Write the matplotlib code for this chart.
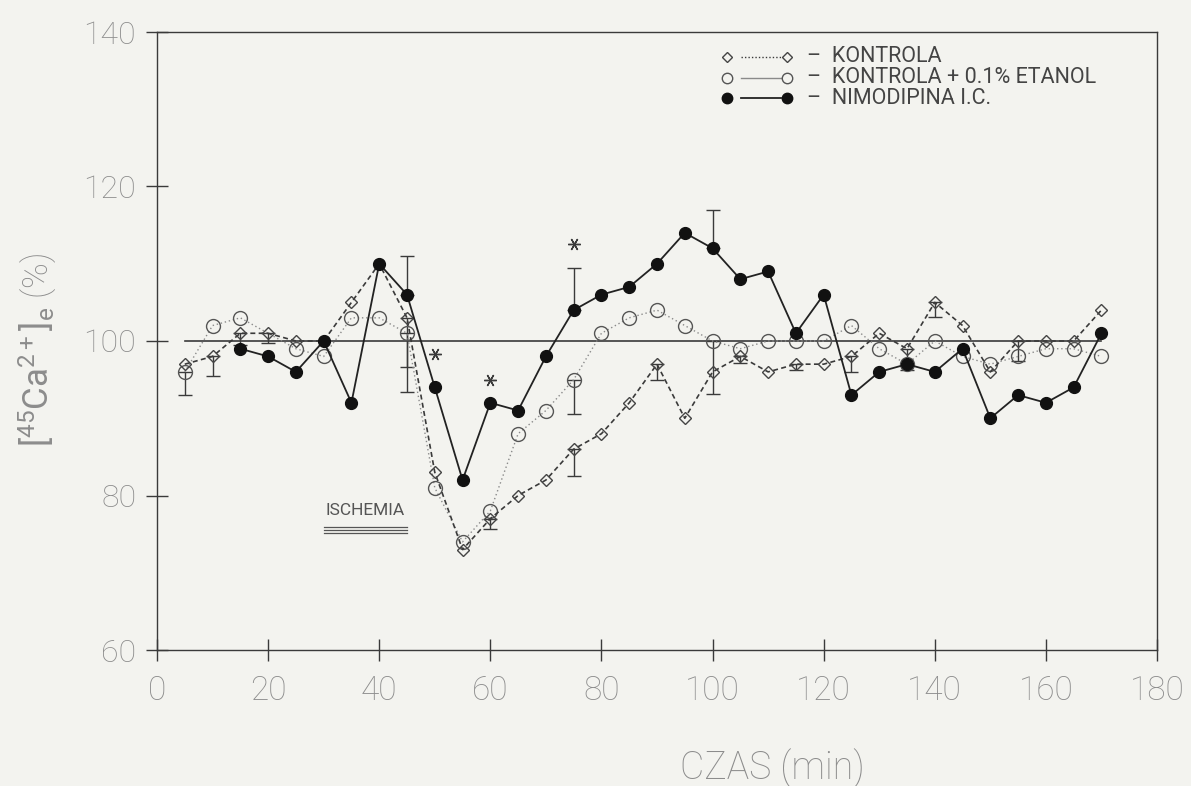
import matplotlib
matplotlib.use("Agg")
import matplotlib.pyplot as plt

# time points (min)
x_kontrola = [5, 10, 15, 20, 25, 30, 35, 40, 45, 50, 55, 60, 65, 70, 75, 80, 85,
              90, 95, 100, 105, 110, 115, 120, 125, 130, 135, 140, 145, 150, 155,
              160, 165, 170]
y_kontrola = [97, 98, 101, 101, 100, 100, 105, 110, 103, 83, 73, 77, 80, 82, 86,
              88, 92, 97, 90, 96, 98, 96, 97, 97, 98, 101, 99, 105, 102, 96, 100,
              100, 100, 104]

x_etanol = [5, 10, 15, 25, 30, 35, 40, 45, 50, 55, 60, 65, 70, 75, 80, 85, 90,
            95, 100, 105, 110, 115, 120, 125, 130, 135, 140, 145, 150, 155, 160,
            165, 170]
y_etanol = [96, 102, 103, 99, 98, 103, 103, 101, 81, 74, 78, 88, 91, 95, 101,
            103, 104, 102, 100, 99, 100, 100, 100, 102, 99, 97, 100, 98, 97, 98,
            99, 99, 98]

x_nimo = [15, 20, 25, 30, 35, 40, 45, 50, 55, 60, 65, 70, 75, 80, 85, 90, 95,
          100, 105, 110, 115, 120, 125, 130, 135, 140, 145, 150, 155, 160, 165,
          170]
y_nimo = [99, 98, 96, 100, 92, 110, 106, 94, 82, 92, 91, 98, 104, 106, 107, 110,
          114, 112, 108, 109, 101, 106, 93, 96, 97, 96, 99, 90, 93, 92, 94, 101]

# one-sided SEM bars
kontrola_err_x = [10, 15, 20, 45, 60, 75, 90, 105, 115, 125, 135, 140, 155]
kontrola_err_lo = [2.5, 1.5, 1.2, 6.4, 1.3, 3.5, 2.0, 0.8, 0.8, 2.0, 2.8, 1.9, 2.6]
etanol_err_x = [5, 45, 75, 100]
etanol_err_lo = [3.0, 7.6, 4.5, 6.8]
nimo_err_x = [45, 75, 100]
nimo_err_hi = [5.0, 5.5, 5.0]

# significance marks
star_x = [50, 60, 75]
star_y = [98.3, 95.0, 112.6]

ischemia_start, ischemia_end = 30, 45

x_ticks = [0, 20, 40, 60, 80, 100, 120, 140, 160, 180]
y_ticks = [60, 80, 100, 120, 140]

legend_labels = ["KONTROLA", "KONTROLA + 0.1% ETANOL", "NIMODIPINA I.C."]

BG = "#f3f3ef"
INK = "#3a3a3a"
GREY_TXT = "#8c8c8c"
FONT = "Roboto"

plt.rcParams["font.family"] = [FONT, "DejaVu Sans"]
plt.rcParams["mathtext.fontset"] = "custom"
plt.rcParams["mathtext.rm"] = FONT
plt.rcParams["mathtext.it"] = FONT
plt.rcParams["mathtext.bf"] = FONT

fig = plt.figure(figsize=(11.91, 7.86), dpi=100, facecolor=BG)
ax = fig.add_axes([157 / 1191, 1 - 650 / 786, 1000 / 1191, 618 / 786])
ax.set_facecolor(BG)

# baseline
ax.plot([5, 170], [100, 100], color=INK, lw=1.2, zorder=1)

# error bars
ax.errorbar(kontrola_err_x,
            [y_kontrola[x_kontrola.index(v)] for v in kontrola_err_x],
            yerr=[kontrola_err_lo, [0] * len(kontrola_err_x)],
            fmt="none", ecolor=INK, elinewidth=1.0, capsize=5, capthick=1.0, zorder=2)
ax.errorbar(etanol_err_x,
            [y_etanol[x_etanol.index(v)] for v in etanol_err_x],
            yerr=[etanol_err_lo, [0] * len(etanol_err_x)],
            fmt="none", ecolor=INK, elinewidth=1.0, capsize=5, capthick=1.0, zorder=2)
ax.errorbar(nimo_err_x,
            [y_nimo[x_nimo.index(v)] for v in nimo_err_x],
            yerr=[[0] * len(nimo_err_x), nimo_err_hi],
            fmt="none", ecolor=INK, elinewidth=1.0, capsize=5, capthick=1.0, zorder=2)

# series
ax.plot(x_etanol, y_etanol, color="#8a8a8a", lw=1.0, ls=(0, (1, 2)),
        marker="o", ms=10, mfc="none", mec="#555555", mew=1.0, zorder=3)
ax.plot(x_kontrola, y_kontrola, color=INK, lw=1.2, ls=(0, (3, 2)),
        marker="D", ms=6.5, mfc="none", mec="#444444", mew=1.0, zorder=4)
ax.plot(x_nimo, y_nimo, color="#222222", lw=1.3, ls="-",
        marker="o", ms=8.5, mfc="#111111", mec="#111111", zorder=5)

# asterisks
ax.plot(star_x, star_y, ls="none", marker=(6, 2, 90), ms=9, mec=INK, mew=1.0, zorder=6)

# ischemia period
ax.text((ischemia_start + ischemia_end) / 2, 78.0, "ISCHEMIA", ha="center",
        va="center", fontsize=12.5, color="#555555")
for yy in (75.9, 75.5, 75.1):
    ax.plot([ischemia_start, ischemia_end], [yy, yy], color="#555555", lw=0.9)

# legend drawn as labelled sample rows
leg_rows = [136.8, 134.1, 131.4]
leg_styles = [
    dict(color=INK, lw=1.0, ls=(0, (1, 1.5)), marker="D", ms=5.5, mfc="none", mec="#444444"),
    dict(color="#8a8a8a", lw=1.0, ls="-", marker="o", ms=7.5, mfc="none", mec="#555555"),
    dict(color="#222222", lw=1.3, ls="-", marker="o", ms=7.5, mfc="#111111", mec="#111111"),
]
for yy, lab, st in zip(leg_rows, legend_labels, leg_styles):
    ax.plot([105.2, 112.3], [yy, yy], color=st["color"], lw=st["lw"], ls=st["ls"])
    ax.plot([102.6, 113.4], [yy, yy], ls="none", marker=st["marker"], ms=st["ms"],
            mfc=st["mfc"], mec=st["mec"], mew=1.0)
    ax.text(117.0, yy, "\u2013  " + lab, ha="left", va="center", fontsize=15.5,
            color="#444444")

ax.set_xlim(0, 180)
ax.set_ylim(60, 140)
ax.set_xticks(x_ticks)
ax.set_yticks(y_ticks)
ax.tick_params(direction="inout", length=16, width=1.0, color=INK,
               labelcolor=GREY_TXT)
ax.tick_params(axis="x", pad=10, labelsize=24)
ax.tick_params(axis="y", pad=7, labelsize=23)
for lbl in ax.get_xticklabels() + ax.get_yticklabels():
    lbl.set_fontweight("light")
for sp in ax.spines.values():
    sp.set_color(INK)
    sp.set_linewidth(1.0)

fig.text(772 / 1191, 1 - 768 / 786, "CZAS (min)", ha="center", va="center",
         fontsize=27, color=GREY_TXT, fontweight="light")
fig.text(38 / 1191, 1 - 350 / 786, r"$[^{45}\mathrm{Ca}^{2+}]_{\mathrm{e}}$ (%)",
         rotation=90, ha="center", va="center", fontsize=25, color=GREY_TXT,
         fontweight="light")

fig.savefig("out.png", dpi=100, facecolor=BG)
